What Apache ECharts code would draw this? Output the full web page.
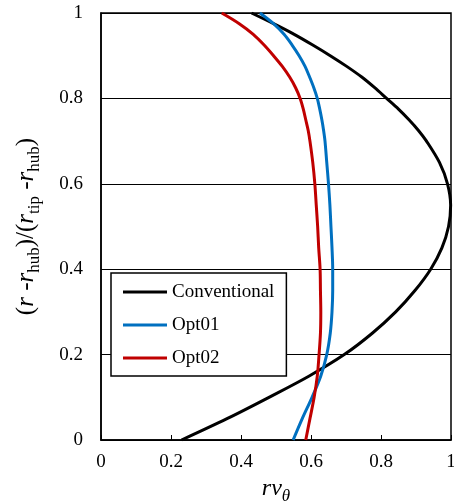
<!DOCTYPE html>
<html>
<head>
<meta charset="utf-8">
<script src="https://cdn.jsdelivr.net/npm/echarts@6/dist/echarts.min.js"></script>
<style>
  html, body { margin: 0; padding: 0; background: #fff; }
  #chart { width: 454px; height: 501px; }
</style>
</head>
<body>
<div id="chart"></div>
<script>
// normalised span (r - r_hub)/(r_tip - r_hub)
const span = [0, 0.05, 0.1, 0.15, 0.2, 0.25, 0.3, 0.35, 0.4, 0.45, 0.5,
  0.55, 0.6, 0.65, 0.7, 0.725, 0.75, 0.775, 0.8, 0.825, 0.85, 0.875, 0.9, 0.925, 0.95, 0.975, 1]

// r*v_theta at each span value
const conventional = [0.23, 0.36, 0.48, 0.595, 0.695, 0.775, 0.842, 0.897, 0.942, 0.974, 0.993,
  0.999, 0.99, 0.967, 0.93, 0.907, 0.88, 0.85, 0.816, 0.782, 0.745, 0.702, 0.655, 0.605, 0.552, 0.493, 0.43]
const opt01 = [0.549, 0.575, 0.603, 0.628, 0.645, 0.655, 0.66, 0.662, 0.662, 0.66, 0.657,
  0.654, 0.65, 0.645, 0.64, 0.636, 0.631, 0.625, 0.618, 0.608, 0.596, 0.583, 0.566, 0.546, 0.523, 0.493, 0.454]
const opt02 = [0.585, 0.597, 0.609, 0.618, 0.623, 0.627, 0.628, 0.627, 0.626, 0.622, 0.619,
  0.615, 0.611, 0.605, 0.597, 0.592, 0.585, 0.578, 0.569, 0.556, 0.539, 0.518, 0.493, 0.466, 0.435, 0.395, 0.345]

const xTicks = [0, 0.2, 0.4, 0.6, 0.8, 1]
const yTicks = [0, 0.2, 0.4, 0.6, 0.8, 1]

const font = '"Liberation Serif", "Times New Roman", serif'

const chart = echarts.init(document.getElementById('chart'))

function mkSeries(name, xs, color) {
  return {
    type: 'line',
    name,
    data: xs.map((v, i) => [v, span[i]]),
    smooth: 0.33,
    symbol: 'none',
    lineStyle: { color, width: 3 },
    itemStyle: { color },
    z: 3
  }
}

const mainStyle = { fontFamily: font, fontSize: 25, color: '#000', lineHeight: 25, verticalAlign: 'top' }
const italStyle = Object.assign({}, mainStyle, { fontStyle: 'italic' })
const subStyle = { fontFamily: font, fontSize: 17, color: '#000', lineHeight: 29, verticalAlign: 'bottom' }
const subItal = Object.assign({}, subStyle, { fontStyle: 'italic' })
const xMain = Object.assign({}, italStyle, { fontSize: 24, lineHeight: 24 })
const xSub = Object.assign({}, subItal, { fontSize: 17, lineHeight: 28 })

chart.setOption({
  animation: false,
  grid: {
    left: 101, right: 3, top: 13, bottom: 61,
    outerBoundsMode: 'none',
    show: true, borderColor: '#000', borderWidth: 1.5
  },
  xAxis: {
    type: 'value',
    min: 0, max: 1, interval: 0.2,
    name: '{i|rv}{s|θ}',
    nameLocation: 'middle',
    nameGap: 34,
    nameTextStyle: { rich: { i: xMain, s: xSub } },
    axisLine: { lineStyle: { color: '#000', width: 1.5 } },
    axisTick: { show: true, inside: true, length: 5, lineStyle: { color: '#000', width: 1 } },
    axisLabel: {
      color: '#000', fontFamily: font, fontSize: 19, margin: 13,
      formatter: v => xTicks.includes(v) ? String(v) : ''
    },
    splitLine: { show: false }
  },
  yAxis: {
    type: 'value',
    min: 0, max: 1, interval: 0.2,
    name: '{a|(}{i|r}{a| -}{i|r}{s|hub}{a|)/(}{i|r}{s|tip}{a| -}{i|r}{s|hub}{a|)}',
    nameLocation: 'middle',
    nameGap: 58,
    nameTextStyle: { rich: { a: mainStyle, i: italStyle, s: subStyle } },
    axisLine: { lineStyle: { color: '#000', width: 1.5 } },
    axisTick: { show: false },
    axisLabel: {
      color: '#000', fontFamily: font, fontSize: 19, margin: 18,
      formatter: v => yTicks.includes(v) ? String(v) : ''
    },
    splitLine: { lineStyle: { color: '#000', width: 1 } }
  },
  legend: {
    orient: 'vertical',
    left: 111, top: 273,
    backgroundColor: '#fff',
    borderColor: '#000', borderWidth: 1.5, borderRadius: 0,
    padding: [9, 12, 8, 12],
    icon: 'rect',
    itemWidth: 44, itemHeight: 3, itemGap: 13,
    textStyle: { fontFamily: font, fontSize: 19, color: '#000', lineHeight: 20 },
    data: ['Conventional', 'Opt01', 'Opt02']
  },
  series: [
    mkSeries('Conventional', conventional, '#000000'),
    mkSeries('Opt01', opt01, '#0070c0'),
    mkSeries('Opt02', opt02, '#c00000')
  ]
})
</script>
</body>
</html>
